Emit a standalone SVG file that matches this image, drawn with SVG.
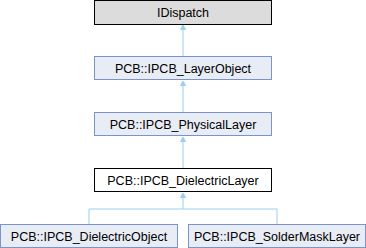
<svg xmlns="http://www.w3.org/2000/svg" width="366" height="248" viewBox="0 0 366 248">
<style>
.n rect{fill:#e8ecf5;stroke:#7b93c8;stroke-width:1}
.t{font-family:"Liberation Sans",Arial,sans-serif;font-size:12.5px;fill:#000;text-anchor:middle}
.e{fill:none;stroke:#9ccfef;stroke-width:1}
.h{fill:#9ccfef;stroke:#9ccfef;stroke-width:1}
</style>
<rect width="366" height="248" fill="#fff"/>
<g id="edges">
<path class="e" d="M183,56.5V29"/>
<path class="h" d="M183,25L180.5,29.5H185.5Z"/>
<path class="e" d="M183,112.5V85"/>
<path class="h" d="M183,81L180.5,85.5H185.5Z"/>
<path class="e" d="M183,168.5V141"/>
<path class="h" d="M183,137L180.5,141.5H185.5Z"/>
<path class="e" d="M89,224.5V209H277V224.5M183,209V197"/>
<path class="h" d="M183,193L180.5,197.5H185.5Z"/>
</g>
<g id="IDispatch">
<rect x="94.5" y="0.5" width="177" height="24" fill="#dcdcdc" stroke="#000"/>
<text class="t" x="183" y="17">IDispatch</text>
</g>
<g id="LayerObject" class="n">
<rect x="94.5" y="56.5" width="177" height="23"/>
<text class="t" x="183" y="72.5">PCB::IPCB_LayerObject</text>
</g>
<g id="PhysicalLayer" class="n">
<rect x="94.5" y="112.5" width="177" height="23"/>
<text class="t" x="183" y="128.5">PCB::IPCB_PhysicalLayer</text>
</g>
<g id="DielectricLayer">
<rect x="94.5" y="168.5" width="177" height="23" fill="#fff" stroke="#000"/>
<text class="t" x="183" y="184.5">PCB::IPCB_DielectricLayer</text>
</g>
<g id="DielectricObject" class="n">
<rect x="0.5" y="224.5" width="177" height="23"/>
<text class="t" x="89" y="240.5">PCB::IPCB_DielectricObject</text>
</g>
<g id="SolderMaskLayer" class="n">
<rect x="188.5" y="224.5" width="177" height="23"/>
<text class="t" x="277" y="240.5">PCB::IPCB_SolderMaskLayer</text>
</g>
</svg>
